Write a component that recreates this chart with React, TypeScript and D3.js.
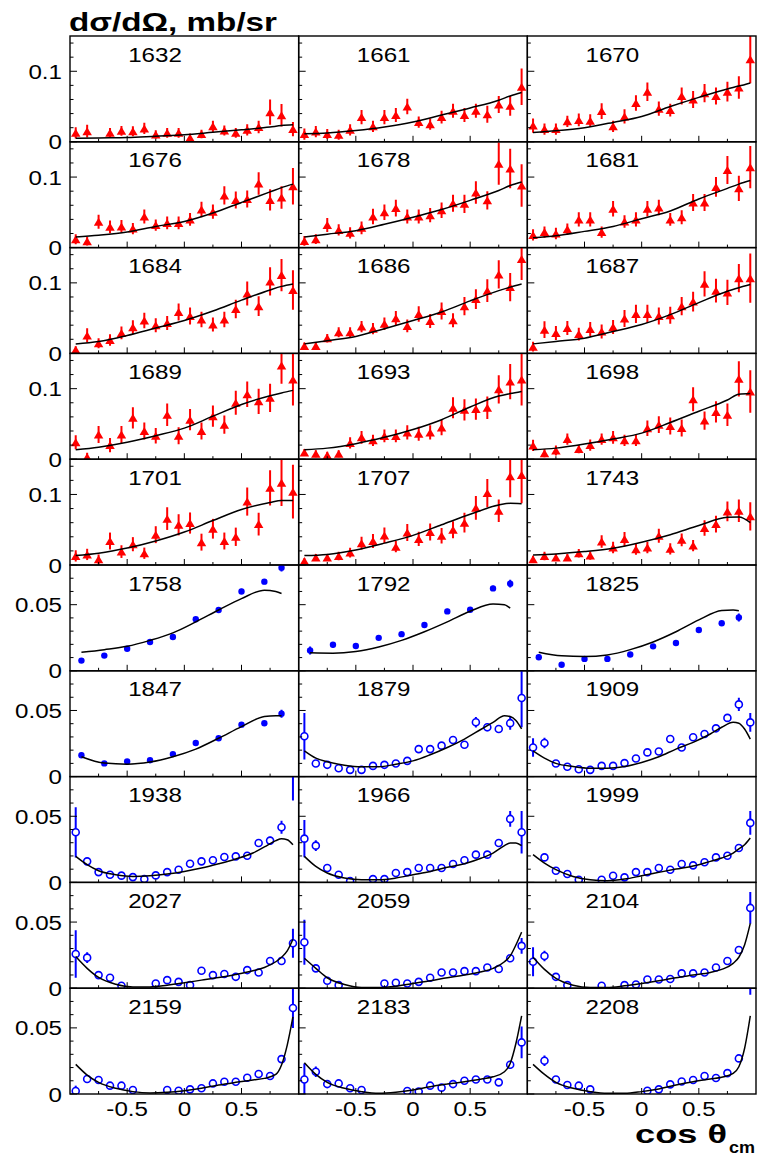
import React from 'react';
import * as d3 from 'd3';

// ---- frame geometry ----
const W = 759;
const H = 1156;
const frameLeft = 70;
const frameRight = 756;
const frameTop = 36;
const frameBottom = 1094;
const nCols = 3;
const nRows = 10;
const panelW = (frameRight - frameLeft) / nCols;
const panelH = (frameBottom - frameTop) / nRows;
const FONT = '"Liberation Sans", Arial, Helvetica, sans-serif';
const textStretch = 1.15;
const labelSize = 21;

// ---- axes ----
const xMajor = [-0.5, 0, 0.5];
const xMinor = [-0.75, -0.25, 0.25, 0.75];
const xTickLabels = ['-0.5', '0', '0.5'];
const redMajorY = [0, 0.1];
const redMinorY = [0.02, 0.04, 0.06, 0.08, 0.12, 0.14];
const redYLabels = ['0', '0.1'];
const blueMajorY = [0, 0.05];
const blueMinorY = [0.01, 0.02, 0.03, 0.04, 0.06, 0.07];
const blueYLabels = ['0', '0.05'];

// ---- cos(theta) bins ----
const binX = [-0.95, -0.85, -0.75, -0.65, -0.55, -0.45, -0.35, -0.25, -0.15, -0.05,
  0.05, 0.15, 0.25, 0.35, 0.45, 0.55, 0.65, 0.75, 0.85, 0.95];
const dotX = [-0.9, -0.7, -0.5, -0.3, -0.1, 0.1, 0.3, 0.5, 0.7, 0.85];

// theory curve sampling points
const triCurveX = [-0.95, -0.75, -0.5, -0.25, 0, 0.25, 0.5, 0.75, 0.85, 0.95];
const dotCurveX = [-0.9, -0.7, -0.5, -0.3, -0.1, 0.1, 0.3, 0.5, 0.7, 0.8, 0.85];
const ringCurveX = [-0.95, -0.85, -0.75, -0.6, -0.45, -0.3, -0.15, 0, 0.15, 0.3, 0.45, 0.6, 0.7, 0.8, 0.85, 0.9, 0.95];

// ---- W = 1632 ... 1743 MeV (triangles) ----
const y1632 = [0.0127, 0.015, null, 0.0127, 0.0155, 0.015, 0.019, 0.0103, 0.0127, 0.0127, 0.0056, 0.011, 0.022, 0.016, 0.0127, 0.017, 0.021, 0.042, 0.0376, 0.018];
const e1632 = [0.008, 0.009, 0, 0.007, 0.007, 0.007, 0.008, 0.006, 0.007, 0.007, 0.006, 0.006, 0.008, 0.007, 0.007, 0.008, 0.009, 0.018, 0.016, 0.01];
const c1632 = [0.005, 0.0055, 0.006, 0.008, 0.010, 0.0135, 0.017, 0.021, 0.023, 0.024];

const y1661 = [0.011, 0.0145, 0.011, 0.010, 0.017, 0.035, 0.022, 0.035, 0.038, 0.050, 0.028, 0.025, 0.035, 0.044, 0.038, 0.044, 0.039, 0.053, 0.051, 0.078];
const e1661 = [0.008, 0.008, 0.007, 0.007, 0.008, 0.01, 0.008, 0.01, 0.01, 0.011, 0.008, 0.008, 0.009, 0.01, 0.01, 0.01, 0.012, 0.012, 0.014, 0.026];
const c1661 = [0.0115, 0.0125, 0.016, 0.021, 0.028, 0.038, 0.048, 0.059, 0.065, 0.070];

const y1670 = [0.023, 0.018, 0.018, 0.029, 0.031, 0.030, 0.0435, 0.022, 0.036, 0.055, 0.071, 0.047, 0.045, 0.065, 0.060, 0.069, 0.065, 0.071, 0.077, 0.117];
const e1670 = [0.01, 0.008, 0.008, 0.008, 0.009, 0.009, 0.011, 0.008, 0.01, 0.011, 0.013, 0.01, 0.009, 0.012, 0.012, 0.013, 0.012, 0.014, 0.016, 0.034];
const c1670 = [0.013, 0.0155, 0.020, 0.0275, 0.036, 0.050, 0.063, 0.075, 0.079, 0.0835];

const y1676 = [0.0119, 0.009, 0.0367, 0.0295, 0.030, 0.027, 0.044, 0.032, 0.035, 0.035, 0.040, 0.054, 0.051, 0.074, 0.0676, 0.069, 0.091, 0.0676, 0.071, 0.087];
const e1676 = [0.007, 0.006, 0.01, 0.009, 0.009, 0.008, 0.01, 0.008, 0.009, 0.009, 0.009, 0.011, 0.01, 0.013, 0.012, 0.012, 0.016, 0.015, 0.016, 0.026];
const c1676 = [0.0152, 0.0176, 0.022, 0.030, 0.037, 0.049, 0.064, 0.079, 0.085, 0.090];

const y1678 = [0.0095, 0.012, 0.032, 0.025, 0.021, 0.028, 0.044, 0.050, 0.056, 0.044, 0.044, 0.046, 0.053, 0.063, 0.062, 0.078, 0.067, 0.119, 0.112, 0.088];
const e1678 = [0.007, 0.007, 0.01, 0.008, 0.008, 0.009, 0.011, 0.011, 0.012, 0.01, 0.01, 0.01, 0.011, 0.012, 0.013, 0.016, 0.013, 0.03, 0.028, 0.03];
const c1678 = [0.015, 0.019, 0.024, 0.033, 0.043, 0.054, 0.067, 0.081, 0.088, 0.093];

const y1681 = [0.018, 0.022, 0.020, 0.026, 0.040, 0.040, 0.022, 0.055, 0.037, 0.040, 0.055, 0.057, 0.040, 0.043, 0.064, 0.064, 0.086, 0.110, 0.084, 0.114];
const e1681 = [0.008, 0.008, 0.008, 0.008, 0.01, 0.01, 0.008, 0.011, 0.009, 0.01, 0.011, 0.011, 0.009, 0.01, 0.012, 0.012, 0.014, 0.02, 0.018, 0.03];
const c1681 = [0.014, 0.0167, 0.023, 0.030, 0.041, 0.052, 0.069, 0.084, 0.090, 0.095];

const y1684 = [0.005, 0.0255, 0.0144, 0.019, 0.029, 0.037, 0.0466, 0.040, 0.043, 0.0587, 0.053, 0.048, 0.041, 0.048, 0.063, 0.085, 0.067, 0.102, 0.111, 0.090];
const e1684 = [0.005, 0.01, 0.007, 0.008, 0.009, 0.01, 0.011, 0.01, 0.01, 0.012, 0.012, 0.011, 0.01, 0.011, 0.013, 0.017, 0.014, 0.02, 0.023, 0.028];
const c1684 = [0.0135, 0.017, 0.0255, 0.036, 0.0466, 0.060, 0.0755, 0.090, 0.095, 0.0985];

const y1686 = [0.0106, 0.0106, 0.0216, 0.030, 0.030, 0.038, 0.035, 0.042, 0.050, 0.039, 0.056, 0.046, 0.060, 0.047, 0.067, 0.077, 0.089, 0.112, 0.094, 0.134];
const e1686 = [0.005, 0.005, 0.006, 0.007, 0.007, 0.008, 0.008, 0.009, 0.01, 0.009, 0.011, 0.01, 0.012, 0.01, 0.013, 0.014, 0.016, 0.02, 0.02, 0.03];
const c1686 = [0.0135, 0.018, 0.024, 0.035, 0.0466, 0.0587, 0.0745, 0.089, 0.094, 0.0985];

const y1687 = [0.0096, 0.0337, 0.029, 0.036, 0.0274, 0.0346, 0.031, 0.0375, 0.0495, 0.056, 0.056, 0.053, 0.054, 0.067, 0.0735, 0.0986, 0.089, 0.0865, 0.1067, 0.1067];
const e1687 = [0.007, 0.012, 0.01, 0.01, 0.009, 0.01, 0.01, 0.01, 0.012, 0.013, 0.013, 0.012, 0.012, 0.013, 0.014, 0.018, 0.017, 0.018, 0.02, 0.035];
const c1687 = [0.0135, 0.017, 0.0216, 0.031, 0.041, 0.055, 0.072, 0.088, 0.093, 0.0976];

const y1689 = [0.024, 0.003, 0.035, 0.020, 0.035, 0.0586, 0.040, 0.0333, 0.063, 0.0333, 0.056, 0.040, 0.061, 0.049, 0.080, 0.092, 0.082, 0.087, 0.133, 0.113];
const e1689 = [0.01, 0.006, 0.012, 0.01, 0.012, 0.015, 0.012, 0.011, 0.016, 0.012, 0.015, 0.012, 0.015, 0.013, 0.017, 0.018, 0.018, 0.02, 0.026, 0.037];
const c1689 = [0.0133, 0.017, 0.024, 0.0333, 0.044, 0.061, 0.0776, 0.090, 0.094, 0.0976];

const y1693 = [0.0095, 0.0076, 0.0057, 0.0076, 0.023, 0.031, 0.0267, 0.033, 0.033, 0.038, 0.036, 0.038, 0.045, 0.073, 0.070, 0.071, 0.073, 0.099, 0.110, 0.113];
const e1693 = [0.005, 0.005, 0.005, 0.005, 0.008, 0.009, 0.008, 0.009, 0.009, 0.01, 0.01, 0.01, 0.011, 0.015, 0.015, 0.015, 0.016, 0.02, 0.025, 0.037];
const c1693 = [0.0133, 0.0157, 0.022, 0.031, 0.042, 0.056, 0.074, 0.0895, 0.093, 0.096];

const y1698 = [0.0195, 0.0086, 0.0124, 0.0286, 0.0143, 0.020, 0.0286, 0.031, 0.0267, 0.0267, 0.044, 0.049, 0.047, 0.0443, 0.085, 0.0548, 0.067, 0.063, 0.114, 0.096];
const e1698 = [0.008, 0.006, 0.007, 0.008, 0.006, 0.008, 0.008, 0.009, 0.008, 0.008, 0.011, 0.012, 0.012, 0.012, 0.017, 0.013, 0.015, 0.016, 0.025, 0.03];
const c1698 = [0.0133, 0.0157, 0.0214, 0.0286, 0.037, 0.052, 0.068, 0.084, 0.092, 0.093];

const y1701 = [0.0129, 0.015, 0.008, 0.034, 0.019, 0.0295, 0.0167, 0.043, 0.0657, 0.057, 0.0595, 0.0324, 0.0514, 0.034, 0.040, 0.090, 0.058, 0.1095, 0.1167, 0.104];
const e1701 = [0.008, 0.008, 0.007, 0.012, 0.009, 0.01, 0.008, 0.012, 0.016, 0.015, 0.015, 0.012, 0.014, 0.012, 0.013, 0.02, 0.016, 0.025, 0.033, 0.038];
const c1701 = [0.0133, 0.0167, 0.024, 0.034, 0.0467, 0.063, 0.0786, 0.0886, 0.0914, 0.0914];

const y1707 = [0.0057, 0.0105, 0.0105, 0.0129, 0.0176, 0.031, 0.034, 0.042, 0.026, 0.046, 0.037, 0.0467, 0.0414, 0.050, 0.060, 0.081, 0.102, 0.077, 0.126, 0.1276];
const e1707 = [0.004, 0.005, 0.005, 0.006, 0.007, 0.009, 0.01, 0.011, 0.008, 0.012, 0.01, 0.012, 0.011, 0.012, 0.014, 0.017, 0.02, 0.016, 0.03, 0.04];
const c1707 = [0.0133, 0.015, 0.0214, 0.031, 0.042, 0.057, 0.072, 0.085, 0.0875, 0.087];

const y1743 = [0.008, 0.0129, 0.0105, 0.0105, 0.0167, 0.0133, 0.0333, 0.0248, 0.0367, 0.0224, 0.0248, 0.0414, 0.0229, 0.0357, 0.0276, 0.0524, 0.058, 0.076, 0.077, 0.069];
const e1743 = [0.005, 0.006, 0.005, 0.005, 0.006, 0.006, 0.009, 0.008, 0.01, 0.008, 0.008, 0.01, 0.008, 0.009, 0.008, 0.011, 0.012, 0.014, 0.016, 0.02];
const c1743 = [0.0143, 0.0157, 0.019, 0.0238, 0.0324, 0.043, 0.056, 0.0676, 0.068, 0.060];

// ---- W = 1758 ... 1847 MeV (filled circles) ----
const y1758 = [0.0077, 0.0115, 0.0167, 0.0218, 0.0256, 0.039, 0.046, 0.060, 0.0674, 0.078];
const e1758 = [0.001, 0.001, 0.001, 0.001, 0.001, 0.0015, 0.002, 0.002, 0.002, 0.003];
const c1758 = [0.014, 0.016, 0.0185, 0.023, 0.0287, 0.037, 0.046, 0.0546, 0.061, 0.060, 0.0585];

const y1792 = [0.0154, 0.0197, 0.0187, 0.0249, 0.0277, 0.0346, 0.0449, 0.0462, 0.0623, 0.0659];
const e1792 = [0.003, 0.002, 0.001, 0.001, 0.001, 0.001, 0.002, 0.001, 0.002, 0.003];
const c1792 = [0.0136, 0.0133, 0.0146, 0.018, 0.023, 0.0295, 0.037, 0.045, 0.0505, 0.050, 0.0474];

const y1825 = [0.0103, 0.0046, 0.009, 0.009, 0.0123, 0.0185, 0.021, 0.0308, 0.0359, 0.0403];
const e1825 = [0.002, 0.001, 0.001, 0.001, 0.001, 0.001, 0.001, 0.001, 0.001, 0.003];
const c1825 = [0.014, 0.0113, 0.0108, 0.012, 0.016, 0.0218, 0.0295, 0.0385, 0.0456, 0.046, 0.0454];

const y1847 = [0.0162, 0.010, 0.0114, 0.0124, 0.017, 0.0254, 0.029, 0.0393, 0.0403, 0.0475];
const e1847 = [0.002, 0.001, 0.001, 0.001, 0.001, 0.001, 0.001, 0.001, 0.001, 0.003];
const c1847 = [0.015, 0.0102, 0.0094, 0.011, 0.015, 0.0208, 0.029, 0.0378, 0.0454, 0.046, 0.046];

// ---- W = 1879 ... 2208 MeV (open circles) ----
const y1879 = [0.0305, 0.0099, 0.0089, 0.0063, 0.0051, 0.0051, 0.0081, 0.0089, 0.0099, 0.0119, 0.0208, 0.0208, 0.0234, 0.0277, 0.0241, 0.0411, 0.0373, 0.036, 0.0404, 0.0594];
const e1879 = [0.0175, 0.002, 0.002, 0.0015, 0.0015, 0.0015, 0.0015, 0.0015, 0.0015, 0.0015, 0.003, 0.002, 0.002, 0.003, 0.002, 0.004, 0.003, 0.003, 0.005, 0.022];
const c1879 = [0.0195, 0.014, 0.0112, 0.0086, 0.0074, 0.0074, 0.0094, 0.0119, 0.0165, 0.022, 0.0284, 0.036, 0.041, 0.046, 0.0454, 0.0424, 0.036];

const y1909 = [0.022, 0.0254, 0.0099, 0.0074, 0.0056, 0.0051, 0.0081, 0.0081, 0.0102, 0.0137, 0.0183, 0.019, 0.0284, 0.022, 0.0297, 0.0322, 0.0365, 0.0444, 0.0546, 0.041];
const e1909 = [0.007, 0.004, 0.0015, 0.0015, 0.0015, 0.0015, 0.0015, 0.0015, 0.0015, 0.0015, 0.002, 0.002, 0.002, 0.002, 0.002, 0.002, 0.002, 0.003, 0.005, 0.007];
const c1909 = [0.0195, 0.014, 0.010, 0.0076, 0.0063, 0.0063, 0.0076, 0.0107, 0.015, 0.0208, 0.0259, 0.0322, 0.0373, 0.0411, 0.0404, 0.036, 0.0284];

const y1938 = [0.0379, 0.0159, 0.0078, 0.0058, 0.0051, 0.004, 0.0025, 0.0053, 0.0078, 0.0096, 0.0141, 0.0159, 0.0167, 0.0192, 0.0197, 0.0202, 0.0298, 0.0316, 0.0417, 0.095];
const e1938 = [0.019, 0.003, 0.0015, 0.0015, 0.0015, 0.0015, 0.0015, 0.0015, 0.0015, 0.0015, 0.0015, 0.0015, 0.0015, 0.0015, 0.0015, 0.0015, 0.003, 0.003, 0.005, 0.033];
const c1938 = [0.0197, 0.0134, 0.0088, 0.0058, 0.0045, 0.005, 0.0063, 0.0083, 0.0109, 0.0141, 0.0177, 0.0222, 0.0268, 0.0316, 0.0331, 0.0323, 0.0285];

const y1966 = [0.0331, 0.0278, 0.0109, 0.0058, 0.001, null, 0.0025, 0.0025, 0.0071, 0.0078, 0.0109, 0.0109, 0.0109, 0.0139, 0.0167, 0.021, 0.021, 0.0298, 0.048, 0.0379];
const e1966 = [0.014, 0.004, 0.002, 0.002, 0.002, 0, 0.0015, 0.0015, 0.0015, 0.0015, 0.0015, 0.0015, 0.0015, 0.0015, 0.002, 0.002, 0.002, 0.003, 0.006, 0.016];
const c1966 = [0.0197, 0.0121, 0.0071, 0.0033, 0.002, 0.002, 0.0033, 0.0058, 0.0083, 0.0114, 0.0141, 0.0184, 0.0222, 0.0278, 0.0298, 0.0298, 0.0278];

const y1999 = [null, 0.0189, 0.0088, 0.0063, 0.002, null, 0.002, 0.005, 0.0038, 0.0078, 0.0078, 0.0109, 0.0096, 0.0139, 0.0129, 0.0152, 0.0189, 0.0202, 0.026, 0.045];
const e1999 = [0, 0.003, 0.0015, 0.0015, 0.0015, 0, 0.0015, 0.0015, 0.0015, 0.0015, 0.0015, 0.0015, 0.0015, 0.0015, 0.0015, 0.0015, 0.002, 0.002, 0.003, 0.009];
const c1999 = [0.021, 0.0146, 0.0096, 0.0045, 0.002, 0.0013, 0.0025, 0.005, 0.0076, 0.0101, 0.0124, 0.0159, 0.0184, 0.0222, 0.0253, 0.0285, 0.0336];

const y2027 = [0.0259, 0.0231, 0.0099, 0.0079, 0.0018, null, null, 0.0036, 0.0061, 0.0048, 0.0023, 0.0132, 0.0099, 0.0107, 0.0086, 0.0137, 0.0119, 0.0206, 0.0206, 0.034];
const e2027 = [0.018, 0.004, 0.0015, 0.0015, 0.0015, 0, 0, 0.0015, 0.0015, 0.0015, 0.0015, 0.002, 0.0015, 0.0015, 0.0015, 0.0015, 0.0015, 0.002, 0.002, 0.011];
const c2027 = [0.0239, 0.015, 0.0081, 0.003, 0.001, 0.001, 0.0023, 0.0041, 0.0061, 0.0081, 0.0104, 0.0132, 0.0157, 0.02, 0.0234, 0.0282, 0.037];

const y2059 = [0.0348, 0.015, 0.0056, 0.0023, null, null, null, 0.0036, 0.0041, 0.0036, 0.0048, 0.0079, 0.0119, 0.0119, 0.0129, 0.0129, 0.0157, 0.0145, 0.0226, 0.032];
const e2059 = [0.017, 0.002, 0.0015, 0.0015, 0, 0, 0, 0.0015, 0.0015, 0.0015, 0.0015, 0.0015, 0.0015, 0.0015, 0.0015, 0.0015, 0.0015, 0.0015, 0.002, 0.006];
const c2059 = [0.0226, 0.015, 0.0079, 0.0028, 0.0005, 0.0005, 0.0015, 0.0036, 0.0056, 0.0079, 0.0099, 0.0124, 0.015, 0.02, 0.0244, 0.0327, 0.0424];

const y2104 = [0.02, 0.0244, 0.0086, 0.0023, null, null, 0.0018, null, 0.0023, 0.0028, 0.0066, 0.0066, 0.0069, 0.0112, 0.0112, 0.0119, 0.0157, 0.0206, 0.0289, 0.0607];
const e2104 = [0.011, 0.004, 0.0015, 0.0015, 0, 0, 0.0015, 0, 0.0015, 0.0015, 0.0015, 0.0015, 0.0015, 0.0015, 0.0015, 0.0015, 0.0015, 0.002, 0.003, 0.012];
const c2104 = [0.0234, 0.0142, 0.0074, 0.0023, 0.0005, 0.0005, 0.0018, 0.0036, 0.0056, 0.0079, 0.0099, 0.0119, 0.0142, 0.0188, 0.0234, 0.0327, 0.049];

const y2159 = [0.0023, 0.0113, 0.0106, 0.0063, 0.0063, 0.003, null, null, 0.003, 0.0025, 0.0035, 0.0043, 0.008, 0.0093, 0.0093, 0.0123, 0.0151, 0.0136, 0.0264, 0.065];
const e2159 = [0.004, 0.002, 0.0015, 0.0015, 0.0015, 0.0015, 0, 0, 0.0015, 0.0015, 0.0015, 0.0015, 0.0015, 0.0015, 0.0015, 0.0015, 0.0015, 0.0015, 0.002, 0.015];
const c2159 = [0.0224, 0.0143, 0.0088, 0.0043, 0.0018, 0.0008, 0.0013, 0.0025, 0.0043, 0.0068, 0.0088, 0.0106, 0.0118, 0.0148, 0.0219, 0.037, 0.0583];

const y2183 = [0.011, 0.0168, 0.0075, 0.008, 0.0043, 0.003, null, null, null, 0.0023, 0.0018, 0.0063, 0.0048, 0.0075, 0.01, 0.011, 0.011, 0.0088, 0.0221, 0.039];
const e2183 = [0.012, 0.004, 0.0015, 0.0015, 0.0015, 0.0015, 0, 0, 0, 0.0015, 0.0015, 0.0015, 0.0015, 0.0015, 0.0015, 0.0015, 0.0015, 0.0015, 0.003, 0.012];
const c2183 = [0.0236, 0.0148, 0.0088, 0.0043, 0.0018, 0.0005, 0.0013, 0.003, 0.0055, 0.0075, 0.0093, 0.0113, 0.013, 0.0168, 0.0231, 0.0382, 0.059];

const y2208 = [null, 0.0251, 0.011, 0.0068, 0.0063, 0.0035, null, null, null, null, 0.0025, 0.0035, 0.0073, 0.0095, 0.0106, 0.0136, 0.0121, 0.0158, 0.0269, 0.098];
const e2208 = [0, 0.004, 0.0015, 0.0015, 0.0015, 0.0015, 0, 0, 0, 0, 0.0015, 0.0015, 0.0015, 0.0015, 0.0015, 0.0015, 0.0015, 0.0015, 0.002, 0.023];
const c2208 = [0.0224, 0.0148, 0.0088, 0.0043, 0.0018, 0.0005, 0.0005, 0.0018, 0.0038, 0.0068, 0.0093, 0.0113, 0.0126, 0.0156, 0.0206, 0.0344, 0.059];

type Kind = 'tri' | 'dot' | 'ring';
interface Panel {
  energy: number;
  kind: Kind;
  x: number[];
  y: (number | null)[];
  err: number[];
  cx: number[];
  cy: number[];
}

const tri = (energy: number, y: (number | null)[], err: number[], cy: number[]): Panel =>
  ({ energy, kind: 'tri', x: binX, y, err, cx: triCurveX, cy });
const dot = (energy: number, y: (number | null)[], err: number[], cy: number[]): Panel =>
  ({ energy, kind: 'dot', x: dotX, y, err, cx: dotCurveX, cy });
const ring = (energy: number, y: (number | null)[], err: number[], cy: number[]): Panel =>
  ({ energy, kind: 'ring', x: binX, y, err, cx: ringCurveX, cy });

const panels: Panel[] = [
  tri(1632, y1632, e1632, c1632), tri(1661, y1661, e1661, c1661), tri(1670, y1670, e1670, c1670),
  tri(1676, y1676, e1676, c1676), tri(1678, y1678, e1678, c1678), tri(1681, y1681, e1681, c1681),
  tri(1684, y1684, e1684, c1684), tri(1686, y1686, e1686, c1686), tri(1687, y1687, e1687, c1687),
  tri(1689, y1689, e1689, c1689), tri(1693, y1693, e1693, c1693), tri(1698, y1698, e1698, c1698),
  tri(1701, y1701, e1701, c1701), tri(1707, y1707, e1707, c1707), tri(1743, y1743, e1743, c1743),
  dot(1758, y1758, e1758, c1758), dot(1792, y1792, e1792, c1792), dot(1825, y1825, e1825, c1825),
  dot(1847, y1847, e1847, c1847), ring(1879, y1879, e1879, c1879), ring(1909, y1909, e1909, c1909),
  ring(1938, y1938, e1938, c1938), ring(1966, y1966, e1966, c1966), ring(1999, y1999, e1999, c1999),
  ring(2027, y2027, e2027, c2027), ring(2059, y2059, e2059, c2059), ring(2104, y2104, e2104, c2104),
  ring(2159, y2159, e2159, c2159), ring(2183, y2183, e2183, c2183), ring(2208, y2208, e2208, c2208),
];

const RED = '#ff0000';
const BLUE = '#0000ff';

function StretchText(props: { x: number; y: number; anchor: 'start' | 'middle' | 'end'; size: number; children: React.ReactNode; bold?: boolean }) {
  const { x, y, anchor, size, children, bold } = props;
  return (
    <text
      transform={`translate(${x},${y}) scale(${textStretch},1)`}
      textAnchor={anchor}
      fontFamily={FONT}
      fontSize={size}
      fontWeight={bold ? 'bold' : 'normal'}
      fill="#000"
    >
      {children}
    </text>
  );
}

function PanelView({ p, i }: { p: Panel; i: number }) {
  const col = i % nCols;
  const row = Math.floor(i / nCols);
  const x0 = frameLeft + col * panelW;
  const y0 = frameTop + row * panelH;
  const x1 = x0 + panelW;
  const y1 = y0 + panelH;
  const isRed = p.kind === 'tri';
  const yMax = isRed ? 0.15 : 0.08;
  const xs = d3.scaleLinear().domain([-1, 1]).range([x0, x1]);
  const ys = d3.scaleLinear().domain([0, yMax]).range([y1, y0]);
  const color = isRed ? RED : BLUE;
  const clipId = `panel-clip-${i}`;

  const curvePts: [number, number][] = p.cx.map((cx, k) => [cx, p.cy[k]]);
  const line = d3.line<[number, number]>()
    .x(d => xs(d[0]))
    .y(d => ys(d[1]))
    .curve(d3.curveMonotoneX);

  const majorY = isRed ? redMajorY : blueMajorY;
  const minorY = isRed ? redMinorY : blueMinorY;
  const yLabels = isRed ? redYLabels : blueYLabels;

  const points = p.x.map((x, k) => ({ x, y: p.y[k], e: p.err[k] }))
    .filter(d => d.y !== null) as { x: number; y: number; e: number }[];

  const triSide = 9.5;
  const triH = 8;
  const ringR = 3.5;
  const dotR = 3.2;

  return (
    <g>
      <defs>
        <clipPath id={clipId}>
          <rect x={x0} y={y0} width={panelW} height={panelH} />
        </clipPath>
      </defs>

      <g clipPath={`url(#${clipId})`}>
        {/* error bars */}
        {points.map((d, k) => {
          const cx = xs(d.x);
          const cy = ys(d.y);
          const top = ys(d.y + d.e);
          const bot = ys(d.y - d.e);
          if (p.kind === 'ring') {
            return (
              <g key={`e${k}`} stroke={color} strokeWidth={2}>
                {cy - ringR > top && <line x1={cx} x2={cx} y1={top} y2={cy - ringR} />}
                {bot > cy + ringR && <line x1={cx} x2={cx} y1={cy + ringR} y2={bot} />}
              </g>
            );
          }
          return <line key={`e${k}`} x1={cx} x2={cx} y1={top} y2={bot} stroke={color} strokeWidth={2} />;
        })}
        {/* markers */}
        {points.map((d, k) => {
          const cx = xs(d.x);
          const cy = ys(d.y);
          if (p.kind === 'tri') {
            const path = d3.path();
            path.moveTo(cx, cy - triH / 2);
            path.lineTo(cx + triSide / 2, cy + triH / 2);
            path.lineTo(cx - triSide / 2, cy + triH / 2);
            path.closePath();
            return <path key={`m${k}`} d={path.toString()} fill={color} />;
          }
          if (p.kind === 'dot') {
            return <circle key={`m${k}`} cx={cx} cy={cy} r={dotR} fill={color} />;
          }
          return <circle key={`m${k}`} cx={cx} cy={cy} r={ringR} fill="none" stroke={color} strokeWidth={1.6} />;
        })}
        {/* model curve */}
        <path d={line(curvePts) ?? ''} fill="none" stroke="#000" strokeWidth={1.5} />
      </g>

      {/* ticks */}
      <g stroke="#000" strokeWidth={1}>
        {majorY.map(v => <line key={`ym${v}`} x1={x0} x2={x0 + 7} y1={ys(v)} y2={ys(v)} />)}
        {minorY.map(v => <line key={`yn${v}`} x1={x0} x2={x0 + 3.5} y1={ys(v)} y2={ys(v)} />)}
        {xMajor.map(v => <line key={`xm${v}`} x1={xs(v)} x2={xs(v)} y1={y1} y2={y1 - 6} />)}
        {xMinor.map(v => <line key={`xn${v}`} x1={xs(v)} x2={xs(v)} y1={y1} y2={y1 - 3} />)}
      </g>

      {/* frame */}
      <rect x={x0} y={y0} width={panelW} height={panelH} fill="none" stroke="#000" strokeWidth={1.4} />

      {/* energy label */}
      <StretchText x={x0 + 85} y={y0 + 25.5} anchor="middle" size={labelSize}>{p.energy}</StretchText>

      {/* y tick labels on the first column */}
      {col === 0 && majorY.map((v, k) => (
        <StretchText key={`yl${k}`} x={62} y={ys(v) + 7.5} anchor="end" size={labelSize}>{yLabels[k]}</StretchText>
      ))}

      {/* x tick labels on the bottom row */}
      {row === nRows - 1 && xMajor.map((v, k) => (
        <StretchText key={`xl${k}`} x={xs(v)} y={y1 + 22} anchor="middle" size={labelSize}>{xTickLabels[k]}</StretchText>
      ))}
    </g>
  );
}

export default function App() {
  return (
    <svg
      width={W}
      height={H}
      viewBox={`0 0 ${W} ${H}`}
      style={{ position: 'absolute', left: 0, top: 0, background: '#fff' }}
    >
      <rect x={0} y={0} width={W} height={H} fill="#fff" />
      {panels.map((p, i) => <PanelView key={p.energy} p={p} i={i} />)}

      {/* axis titles */}
      <text x={69} y={31} fontFamily={FONT} fontSize={25} fontWeight="bold" textLength={208} lengthAdjust="spacingAndGlyphs">
        dσ/dΩ, mb/sr
      </text>
      <text x={635} y={1143} fontFamily={FONT} fontSize={25} fontWeight="bold" textLength={92} lengthAdjust="spacingAndGlyphs">
        cos θ
      </text>
      <text x={729} y={1153} fontFamily={FONT} fontSize={16} fontWeight="bold" textLength={26} lengthAdjust="spacingAndGlyphs">
        cm
      </text>
    </svg>
  );
}
